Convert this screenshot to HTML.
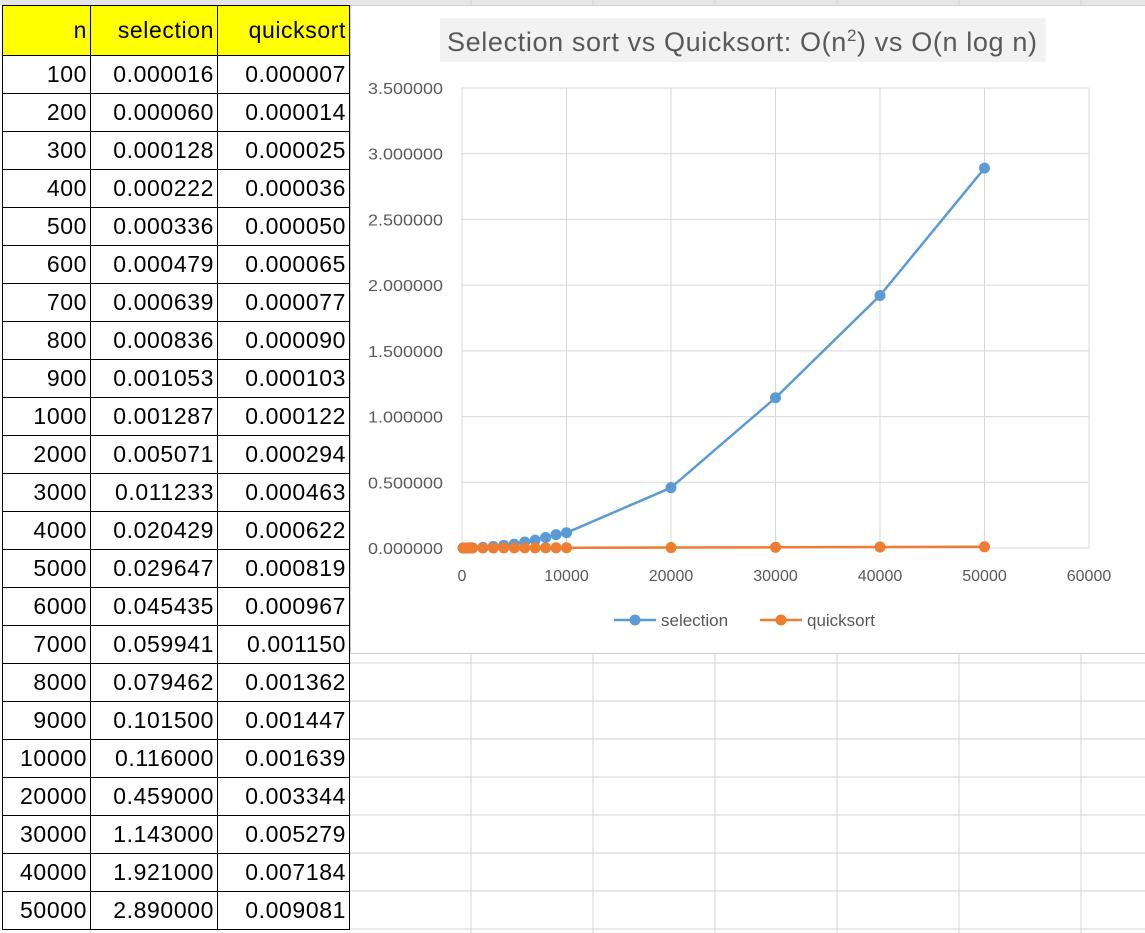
<!DOCTYPE html>
<html><head><meta charset="utf-8"><style>
body{margin:0;width:1145px;height:933px;background:#fff;overflow:hidden;font-family:"Liberation Sans",sans-serif;position:relative}
#grid{position:absolute;left:0;top:0}
table{position:absolute;left:2px;top:5px;border-collapse:collapse}
td{border:1px solid #000;height:37px;padding:0 3px 0 0;text-align:right;font-size:23px;letter-spacing:0.6px;line-height:37px;box-sizing:border-box;white-space:nowrap}
tr.h td{background:#ffff00;height:50px}
</style></head><body>
<svg id="grid" width="1145" height="933"></svg>
<table><tbody id="tb">
<tr class="h"><td style="width:88px">n</td><td style="width:127px">selection</td><td style="width:132px">quicksort</td></tr>
</tbody></table>
<svg id="chart" width="1145" height="933" style="position:absolute;left:0;top:0"></svg>
<script>
const ns=[100,200,300,400,500,600,700,800,900,1000,2000,3000,4000,5000,6000,7000,8000,9000,10000,20000,30000,40000,50000];
const selection=[0.000016,0.000060,0.000128,0.000222,0.000336,0.000479,0.000639,0.000836,0.001053,0.001287,0.005071,0.011233,0.020429,0.029647,0.045435,0.059941,0.079462,0.101500,0.116000,0.459000,1.143000,1.921000,2.890000];
const quicksort=[0.000007,0.000014,0.000025,0.000036,0.000050,0.000065,0.000077,0.000090,0.000103,0.000122,0.000294,0.000463,0.000622,0.000819,0.000967,0.001150,0.001362,0.001447,0.001639,0.003344,0.005279,0.007184,0.009081];
const yTicks=[0,0.5,1,1.5,2,2.5,3,3.5];
const xTicks=[0,10000,20000,30000,40000,50000,60000];
const S='http://www.w3.org/2000/svg';
function mk(p,t,a,txt){const e=document.createElementNS(S,t);for(const k in a)e.setAttribute(k,a[k]);if(txt!==undefined)e.textContent=txt;p.appendChild(e);return e;}
const g=document.getElementById('grid');
mk(g,'rect',{x:0,y:0,width:1145,height:5,fill:'#e6e6e6'});
[471,593,715,837,959,1081].forEach(x=>mk(g,'line',{x1:x,y1:0,x2:x,y2:933,stroke:'#d4d4d4'}));
for(let y=55;y<933;y+=38)mk(g,'line',{x1:349,y1:y,x2:1145,y2:y,stroke:'#d4d4d4'});
const tb=document.getElementById('tb');
ns.forEach((n,i)=>{const tr=document.createElement('tr');


[n,selection[i].toFixed(6),quicksort[i].toFixed(6)].forEach(v=>{const td=document.createElement('td');td.textContent=v;


tr.appendChild(td);});tb.appendChild(tr);});
const c=document.getElementById('chart');
const box=mk(c,'rect',{x:350.5,y:5.5,width:800,height:648,fill:'#fff',stroke:'#d0d0d0'});


const tbg=mk(c,'rect',{x:440,y:18,width:606,height:44,fill:'#f2f2f2'});


const title=mk(c,'text',{x:447,y:51,'font-size':27,fill:'#595959','font-family':'Liberation Sans,sans-serif',textLength:590,lengthAdjust:'spacing'});
title.innerHTML='Selection sort vs Quicksort: O(n<tspan dy="-10" font-size="17">2</tspan><tspan dy="10">) vs O(n log n)</tspan>';


const X0=462,X1=1089,Y0=548,Y1=88;
const xs=v=>X0+(v-0)/60000*(X1-X0), ys=v=>Y0-(v/3.5)*(Y0-Y1);
yTicks.forEach(t=>{mk(c,'line',{x1:X0,y1:ys(t),x2:X1,y2:ys(t),stroke:'#d9d9d9'});
const l=mk(c,'text',{x:368,y:ys(t)+6,'font-size':16,fill:'#595959',textLength:75,lengthAdjust:'spacingAndGlyphs'},t.toFixed(6));

});
xTicks.forEach(t=>{mk(c,'line',{x1:xs(t),y1:Y1,x2:xs(t),y2:Y0,stroke:'#d9d9d9'});
const l=mk(c,'text',{x:xs(t),y:581,'text-anchor':'middle','font-size':16,fill:'#595959'},t);

});
function series(vals,col,name){
const pts=ns.map((n,i)=>xs(n)+','+ys(vals[i])).join(' ');
const pl=mk(c,'polyline',{points:pts,fill:'none',stroke:col,'stroke-width':2.5});


ns.forEach((n,i)=>{const m=mk(c,'circle',{cx:xs(n),cy:ys(vals[i]),r:5.5,fill:col});

});}
series(selection,'#5b9bd5','selection');
series(quicksort,'#ed7d31','quicksort');
function leg(x,col,txt,name){const gg=mk(c,'g',{});


mk(gg,'line',{x1:x,y1:620,x2:x+42,y2:620,stroke:col,'stroke-width':2.5});
mk(gg,'circle',{cx:x+21,cy:620,r:5.5,fill:col});
mk(gg,'text',{x:x+47,y:626,'font-size':17,fill:'#595959'},txt);}
leg(614,'#5b9bd5','selection','legend-selection');
leg(760,'#ed7d31','quicksort','legend-quicksort');
</script>
</body></html>
